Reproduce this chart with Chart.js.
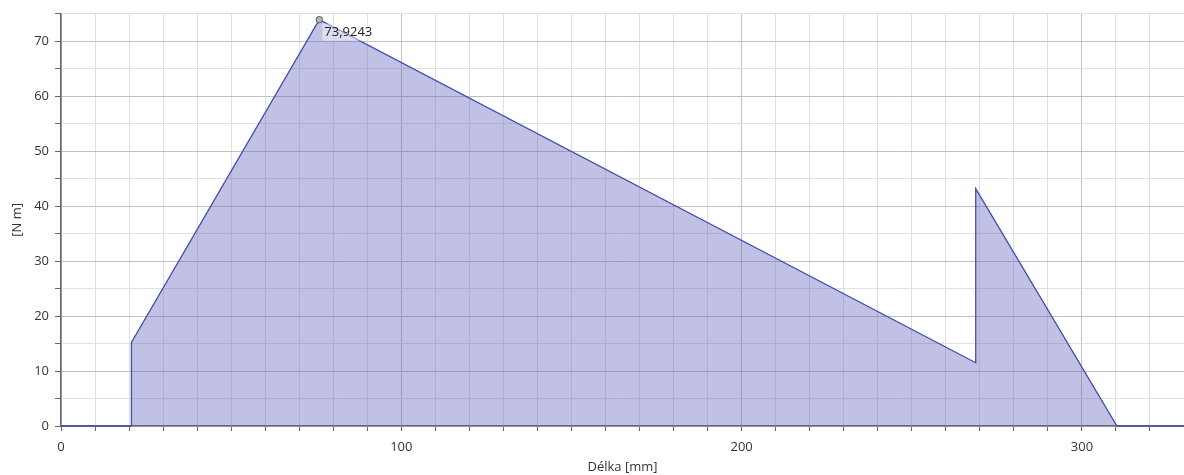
<!DOCTYPE html>
<html>
<head>
<meta charset="utf-8">
<script src="https://cdn.jsdelivr.net/npm/chart.js@4.4.1/dist/chart.umd.min.js"></script>
<style>
  html, body { margin: 0; padding: 0; background: #fff; }
  #wrap { width: 1184px; height: 475px; }
</style>
</head>
<body>
<div id="wrap"><canvas id="myChart"></canvas></div>
<script>
// values
const lengthMm = [0, 20.7, 20.7, 75.9, 268.8, 268.8, 310.3, 330];
const moment   = [0, 0, 15.2, 73.9243, 11.5, 43.2, 0, 0];
const peakIndex = 3;
const peakLabel = '73,9243';

const points = lengthMm.map((x, i) => ({ x: x, y: moment[i] }));

const font = { family: 'Open Sans', size: 13 };

// label next to the maximum
const peakLabelPlugin = {
  id: 'peakLabel',
  afterDatasetsDraw(chart) {
    const pt = chart.getDatasetMeta(0).data[peakIndex];
    const ctx = chart.ctx;
    ctx.save();
    ctx.font = '13px "Open Sans"';
    const w = ctx.measureText(peakLabel).width;
    ctx.fillStyle = 'rgba(255,255,255,0.45)';
    ctx.fillRect(pt.x + 3, pt.y + 4, w + 4, 17);
    ctx.fillStyle = '#222';
    ctx.textBaseline = 'middle';
    ctx.fillText(peakLabel, pt.x + 5, pt.y + 13);
    // redraw the marker on top
    ctx.beginPath();
    ctx.arc(pt.x, pt.y, 3.2, 0, Math.PI * 2);
    ctx.fillStyle = '#b8b8b8';
    ctx.fill();
    ctx.lineWidth = 1;
    ctx.strokeStyle = '#555';
    ctx.stroke();
    ctx.restore();
  }
};

new Chart(document.getElementById('myChart'), {
  type: 'line',
  data: {
    datasets: [{
      data: points,
      borderColor: '#3d50b0',
      borderWidth: 1.3,
      backgroundColor: 'rgba(100,100,190,0.4)',
      fill: 'origin',
      tension: 0,
      pointRadius: 0,
      clip: 3
    }]
  },
  options: {
    responsive: true,
    maintainAspectRatio: false,
    animation: false,
    layout: { padding: { top: 12, right: 0, left: 0, bottom: 0 } },
    plugins: {
      legend: { display: false },
      tooltip: { enabled: false }
    },
    scales: {
      x: {
        type: 'linear',
        min: 0,
        max: 330,
        afterFit(scale) {
          scale.height = 49;
          scale.paddingLeft = 0;
          scale.paddingRight = 0;
        },
        border: { color: '#666', width: 1.5 },
        grid: {
          color: (c) => (c.tick && c.tick.value % 100 === 0) ? '#c0c0c0' : '#e0e0e0',
          tickColor: '#666',
          tickLength: 5
        },
        ticks: {
          stepSize: 10,
          autoSkip: false,
          maxRotation: 0,
          padding: 8,
          color: '#333',
          font: font,
          callback: (v) => (v % 100 === 0 ? v : '')
        },
        title: {
          display: true,
          text: 'Délka [mm]',
          color: '#333',
          font: font,
          padding: { top: 0, bottom: 0 }
        }
      },
      y: {
        min: 0,
        max: 75,
        afterFit(scale) { scale.width = 61; },
        border: { color: '#666', width: 1.5 },
        grid: {
          color: (c) => (c.tick && c.tick.value % 10 === 0) ? '#c0c0c0' : '#e0e0e0',
          tickColor: '#666',
          tickLength: 6
        },
        ticks: {
          stepSize: 5,
          autoSkip: false,
          padding: 6,
          color: '#333',
          font: font,
          callback: (v) => (v % 10 === 0 ? v : '')
        },
        title: {
          display: true,
          text: '[N m]',
          color: '#333',
          font: font,
          padding: { top: 9, bottom: 0 }
        }
      }
    }
  },
  plugins: [peakLabelPlugin]
});
</script>
</body>
</html>
